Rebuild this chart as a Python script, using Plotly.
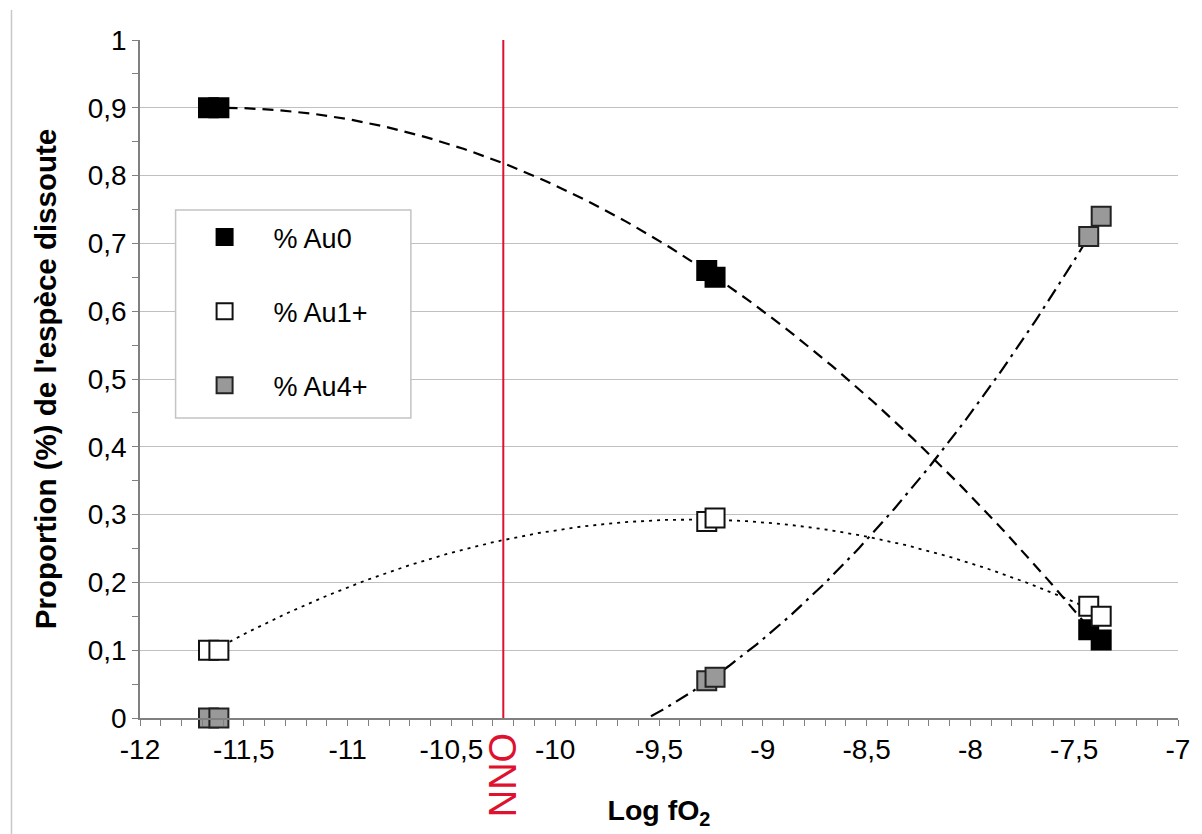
import numpy as np
import plotly.graph_objects as go

# ---- data ----
log_fo2 = [-11.67, -11.62, -9.27, -9.23, -7.43, -7.37]
au0 = [0.90, 0.90, 0.66, 0.65, 0.13, 0.115]
au1 = [0.10, 0.10, 0.29, 0.295, 0.165, 0.15]
au4 = [0.00, 0.00, 0.055, 0.06, 0.71, 0.74]
series_names = ["% Au0", "% Au1+", "% Au4+"]
nno_x = -10.25

x_tickvals = [-12, -11.5, -11, -10.5, -10, -9.5, -9, -8.5, -8, -7.5, -7]
x_ticktext = ["-12", "-11,5", "-11", "-10,5", "-10", "-9,5", "-9", "-8,5", "-8", "-7,5", "-7"]
y_tickvals = [0, 0.1, 0.2, 0.3, 0.4, 0.5, 0.6, 0.7, 0.8, 0.9, 1]
y_ticktext = ["0", "0,1", "0,2", "0,3", "0,4", "0,5", "0,6", "0,7", "0,8", "0,9", "1"]

FONT = "Liberation Sans, Arial, sans-serif"
W, H = 1194, 826
ML, MR, MT, MB = 132, 12, 32, 116
PW, PH = W - ML - MR, H - MT - MB


def px_x(p):  # page pixel -> paper x
    return (p - 8 - ML) / PW


def px_y(p):  # page pixel -> paper y
    return (H - MB - (p - 8)) / PH


fig = go.Figure()

# polynomial (order 2) trend lines fitted to each series
xs = np.linspace(min(log_fo2), max(log_fo2), 200)
line_styles = [
    (au0, dict(color="black", width=2.2, dash="11px,7px")),
    (au1, dict(color="black", width=1.8, dash="3px,5px")),
    (au4, dict(color="black", width=2.2, dash="14px,6px,3px,6px")),
]
for ys, st in line_styles:
    c = np.polyfit(log_fo2, ys, 2)
    fig.add_trace(go.Scatter(x=xs, y=np.polyval(c, xs), mode="lines", line=st,
                             showlegend=False, hoverinfo="skip"))

marker_styles = [
    (au0, "black", "black"),
    (au1, "white", "#111111"),
    (au4, "#999999", "#222222"),
]
for i, (ys, fill, edge) in enumerate(marker_styles):
    fig.add_trace(go.Scatter(
        x=log_fo2, y=ys, mode="markers", name=series_names[i],
        legendgroup=f"g{i}", cliponaxis=False,
        marker=dict(symbol="square", size=19, color=fill,
                    line=dict(color=edge, width=2)),
    ))

# NNO buffer line
fig.add_shape(type="line", x0=nno_x, x1=nno_x, y0=0, y1=1, xref="x", yref="y",
              line=dict(color="#e0102f", width=2))
fig.add_annotation(x=nno_x, xref="x", y=px_y(775), yref="paper", text="NNO",
                   textangle=-90, showarrow=False, xanchor="center", yanchor="middle",
                   font=dict(family=FONT, size=38, color="#e0102f"))
# legend frame (white box, light grey border)
fig.add_shape(type="rect", xref="paper", yref="paper",
              x0=px_x(176), x1=px_x(414), y0=px_y(418), y1=px_y(210),
              fillcolor="white", line=dict(color="#c4c4c4", width=1.5), layer="above")
# light frame line at the left edge of the picture
fig.add_shape(type="line", xref="paper", yref="paper", x0=px_x(10), x1=px_x(10),
              y0=px_y(834), y1=px_y(10), line=dict(color="#c8c8c8", width=1.5))

fig.update_layout(
    width=W, height=H,
    margin=dict(l=ML, r=MR, t=MT, b=MB),
    paper_bgcolor="white", plot_bgcolor="white",
    font=dict(family=FONT, size=28, color="black"),
    showlegend=True,
    legend=dict(x=px_x(176), y=px_y(213), xanchor="left", yanchor="top",
                bgcolor="rgba(0,0,0,0)", borderwidth=0,
                font=dict(family=FONT, size=27), tracegroupgap=36,
                itemwidth=88, traceorder="grouped"),
)
fig.update_xaxes(
    range=[-12, -7], tickvals=x_tickvals, ticktext=x_ticktext,
    ticklabeloverflow="allow",
    showgrid=False, zeroline=False, showline=True, linecolor="#808080", linewidth=1.5,
    ticks="outside", ticklen=6, tickcolor="#808080", tickfont=dict(size=28),
    minor=dict(dtick=0.1, ticks="outside", ticklen=6, tickcolor="#808080", showgrid=False),
    title=dict(text="<b>Log fO<sub>2</sub></b>", font=dict(size=28.5), standoff=36),
)
fig.update_yaxes(
    range=[0, 1], tickvals=y_tickvals, ticktext=y_ticktext,
    showgrid=True, gridcolor="#c0c0c0", gridwidth=1.2, zeroline=False,
    showline=True, linecolor="#808080", linewidth=1.5,
    ticks="outside", ticklen=6, tickcolor="#808080", tickfont=dict(size=28),
    minor=dict(dtick=0.05, ticks="outside", ticklen=6, tickcolor="#808080", showgrid=False),
    title=dict(text="<b>Proportion (%) de l'espèce dissoute</b>", font=dict(size=29.5), standoff=22),
)

fig.write_html("out.html")
